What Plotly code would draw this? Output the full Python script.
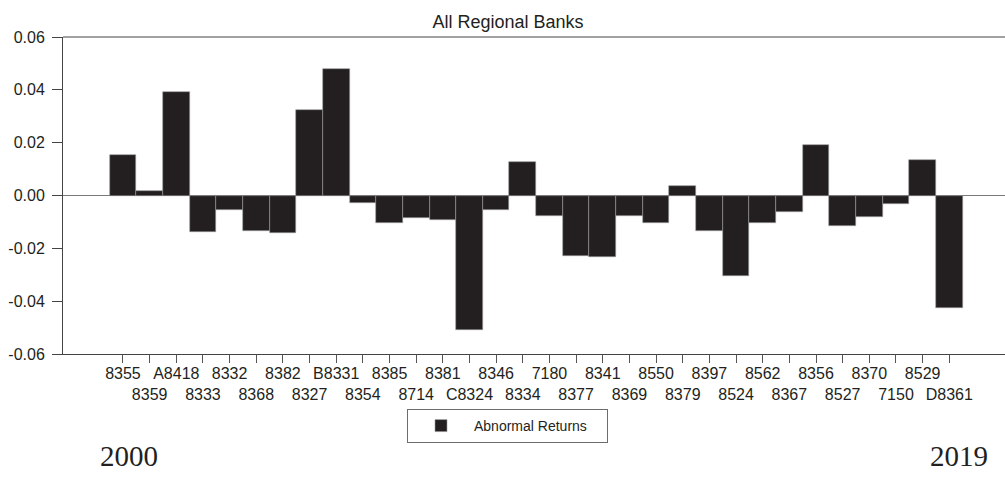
import plotly.graph_objects as go

# Bank codes in plotting order and their abnormal returns
banks = ["8355", "8359", "A8418", "8333", "8332", "8368", "8382", "8327",
         "B8331", "8354", "8385", "8714", "8381", "C8324", "8346", "8334",
         "7180", "8377", "8341", "8369", "8550", "8379", "8397", "8524",
         "8562", "8367", "8356", "8527", "8370", "7150", "8529", "D8361"]
abnormal_returns = [0.0153, 0.0018, 0.0390, -0.0137, -0.0056, -0.0135, -0.0142, 0.0323,
                    0.0480, -0.0030, -0.0103, -0.0084, -0.0092, -0.0510, -0.0054, 0.0127,
                    -0.0077, -0.0229, -0.0232, -0.0079, -0.0105, 0.0036, -0.0135, -0.0304,
                    -0.0103, -0.0063, 0.0193, -0.0114, -0.0081, -0.0033, 0.0135, -0.0425]
y_ticks = [0.06, 0.04, 0.02, 0.00, -0.02, -0.04, -0.06]
y_tick_text = ["0.06", "0.04", "0.02", "0.00", "-0.02", "-0.04", "-0.06"]
period_start, period_end = "2000", "2019"

INK = "#231f20"
SANS = "Liberation Sans, Arial, sans-serif"

W, H = 1005, 493
ML, MR, MT, MB = 63, 0, 37, 139
PW, PH = W - ML - MR, H - MT - MB


def px_to_paper(px, py):
    return (px - ML) / PW, (H - MB - py) / PH


# alternate labels between two rows so they do not collide
tick_text = [b if i % 2 == 0 else " <br>" + b for i, b in enumerate(banks)]

fig = go.Figure()
fig.add_trace(go.Bar(
    x=banks, y=abnormal_returns, name="Abnormal Returns",
    marker=dict(color=INK, line=dict(color="#9a9a9a", width=0.6)),
))

x0, y0 = px_to_paper(128.5, 456)
x1, _ = px_to_paper(958.5, 456)

fig.update_layout(
    width=W, height=H,
    margin=dict(l=ML, r=MR, t=MT, b=MB, autoexpand=False),
    paper_bgcolor="white", plot_bgcolor="white",
    bargap=0,
    font=dict(family=SANS, color=INK, size=16),
    title=dict(text="All Regional Banks", x=508 / W, xref="container", xanchor="center",
               y=1 - 21.5 / H, yref="container", yanchor="middle",
               font=dict(family=SANS, size=18, color=INK)),
    showlegend=True,
    legend=dict(
        orientation="h",
        xref="container", yref="container",
        x=407 / W, y=1 - 409 / H, xanchor="left", yanchor="top",
        bordercolor="#6d6d6d", borderwidth=1, bgcolor="white",
        font=dict(family=SANS, size=14, color=INK),
        entrywidth=128, entrywidthmode="pixels",
        itemwidth=56, tracegroupgap=0,
    ),
    xaxis=dict(
        type="category",
        range=[-2.25, 33.09],
        tickmode="array", tickvals=banks, ticktext=tick_text,
        ticks="outside", ticklen=8, tickcolor="#555555", tickwidth=1,
        ticklabelstandoff=-3,
        showline=True, linecolor="#444444", linewidth=1,
        showgrid=False, tickangle=0, automargin=False,
        tickfont=dict(family=SANS, size=16, color=INK),
    ),
    yaxis=dict(
        range=[-0.06, 0.06],
        tickmode="array", tickvals=y_ticks, ticktext=y_tick_text,
        ticks="outside", ticklen=10, tickcolor="#444444", tickwidth=1,
        ticklabelstandoff=4, automargin=False,
        showline=True, linecolor="#444444", linewidth=1,
        showgrid=False,
        zeroline=True, zerolinecolor="#7a7a7a", zerolinewidth=1,
        tickfont=dict(family=SANS, size=16, color=INK),
    ),
    shapes=[dict(type="line", xref="paper", yref="paper", x0=0, x1=1, y0=1, y1=1,
                 line=dict(color="#444444", width=1))],
    annotations=[
        dict(text=period_start, xref="paper", yref="paper",
             x=x0, y=y0, xanchor="center", yanchor="middle",
             showarrow=False, font=dict(family="Liberation Serif, serif", size=29, color=INK)),
        dict(text=period_end, xref="paper", yref="paper",
             x=x1, y=y0, xanchor="center", yanchor="middle",
             showarrow=False, font=dict(family="Liberation Serif, serif", size=29, color=INK)),
    ],
)

fig.write_html("out.html")
